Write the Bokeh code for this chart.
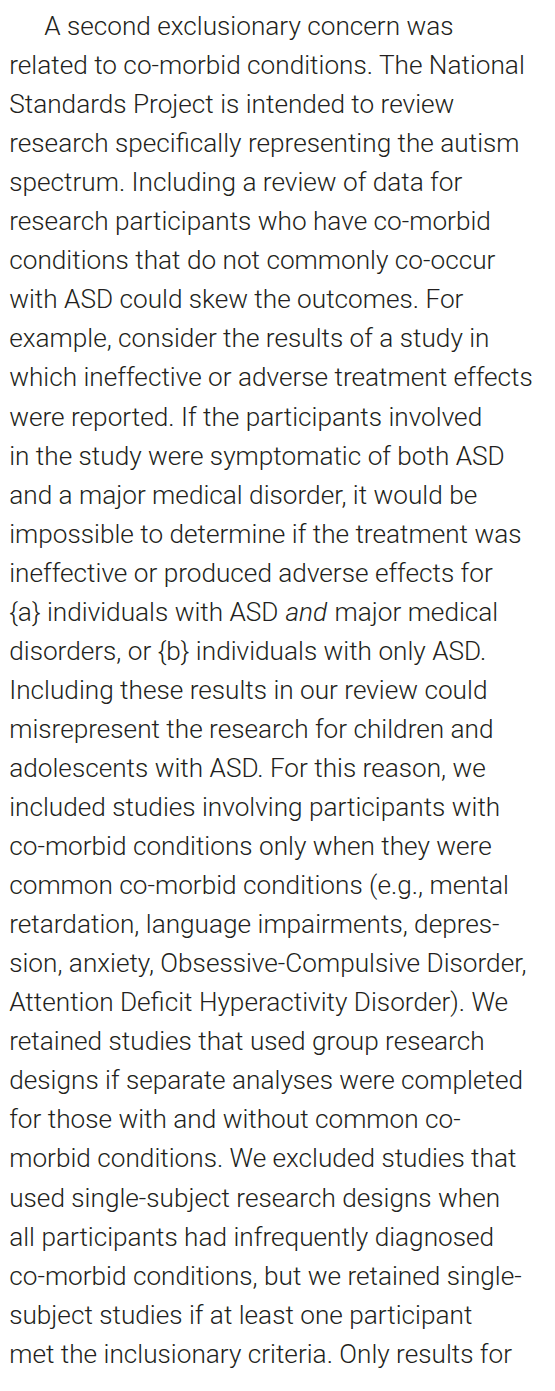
from bokeh.plotting import figure
from bokeh.models import Range1d, ColumnDataSource
from bokeh.core.properties import value
from bokeh.embed import file_html
from bokeh.resources import INLINE

# ---- content -------------------------------------------------------------
lines = [
    "A second exclusionary concern was",
    "related to co-morbid conditions. The National",
    "Standards Project is intended to review",
    "research specifically representing the autism",
    "spectrum. Including a review of data for",
    "research participants who have co-morbid",
    "conditions that do not commonly co-occur",
    "with ASD could skew the outcomes. For",
    "example, consider the results of a study in",
    "which ineffective or adverse treatment effects",
    "were reported. If the participants involved",
    "in the study were symptomatic of both ASD",
    "and a major medical disorder, it would be",
    "impossible to determine if the treatment was",
    "ineffective or produced adverse effects for",
    None,  # mixed roman / italic line, see below
    "disorders, or {b} individuals with only ASD.",
    "Including these results in our review could",
    "misrepresent the research for children and",
    "adolescents with ASD. For this reason, we",
    "included studies involving participants with",
    "co-morbid conditions only when they were",
    "common co-morbid conditions (e.g., mental",
    "retardation, language impairments, depres-",
    "sion, anxiety, Obsessive-Compulsive Disorder,",
    "Attention Deficit Hyperactivity Disorder). We",
    "retained studies that used group research",
    "designs if separate analyses were completed",
    "for those with and without common co-",
    "morbid conditions. We excluded studies that",
    "used single-subject research designs when",
    "all participants had infrequently diagnosed",
    "co-morbid conditions, but we retained single-",
    "subject studies if at least one participant",
    "met the inclusionary criteria. Only results for",
]
mixed_index = 15
mixed_parts = ["{a} individuals with ASD", "and", "major medical"]
mixed_styles = ["normal", "italic", "normal"]

# ---- layout constants ----------------------------------------------------
W, H = 539, 1375
LEFT = 8.7
INDENT = 43.7
FIRST_BASELINE = 25.5
LEADING = 39.05
FONT = "Roboto Light, Roboto, Liberation Sans"
SIZE = "26.2px"
COLOR = "#231f20"
MIXED_X = [LEFT, 285.0, 334.0]

p = figure(width=W, height=H, output_backend="svg", toolbar_location=None,
           x_range=Range1d(0, W), y_range=Range1d(H, 0),
           min_border=0, outline_line_color=None, background_fill_color="white",
           border_fill_color="white")
p.axis.visible = False
p.grid.visible = False

xs, ys, ts = [], [], []
for i, t in enumerate(lines):
    if t is None:
        continue
    xs.append(INDENT if i == 0 else LEFT)
    ys.append(FIRST_BASELINE + i * LEADING)
    ts.append(t)
src = ColumnDataSource(dict(x=xs, y=ys, text=ts))
p.text(x="x", y="y", text="text", source=src, text_font=value(FONT),
       text_font_size=SIZE, text_color=COLOR, text_baseline="alphabetic",
       text_align="left")

for part, style, x0 in zip(mixed_parts, mixed_styles, MIXED_X):
    p.text(x=[x0], y=[FIRST_BASELINE + mixed_index * LEADING], text=[part],
           text_font=value(FONT), text_font_size=SIZE, text_color=COLOR,
           text_font_style=style, text_baseline="alphabetic", text_align="left")

open("out.html", "w").write(file_html(p, INLINE))
